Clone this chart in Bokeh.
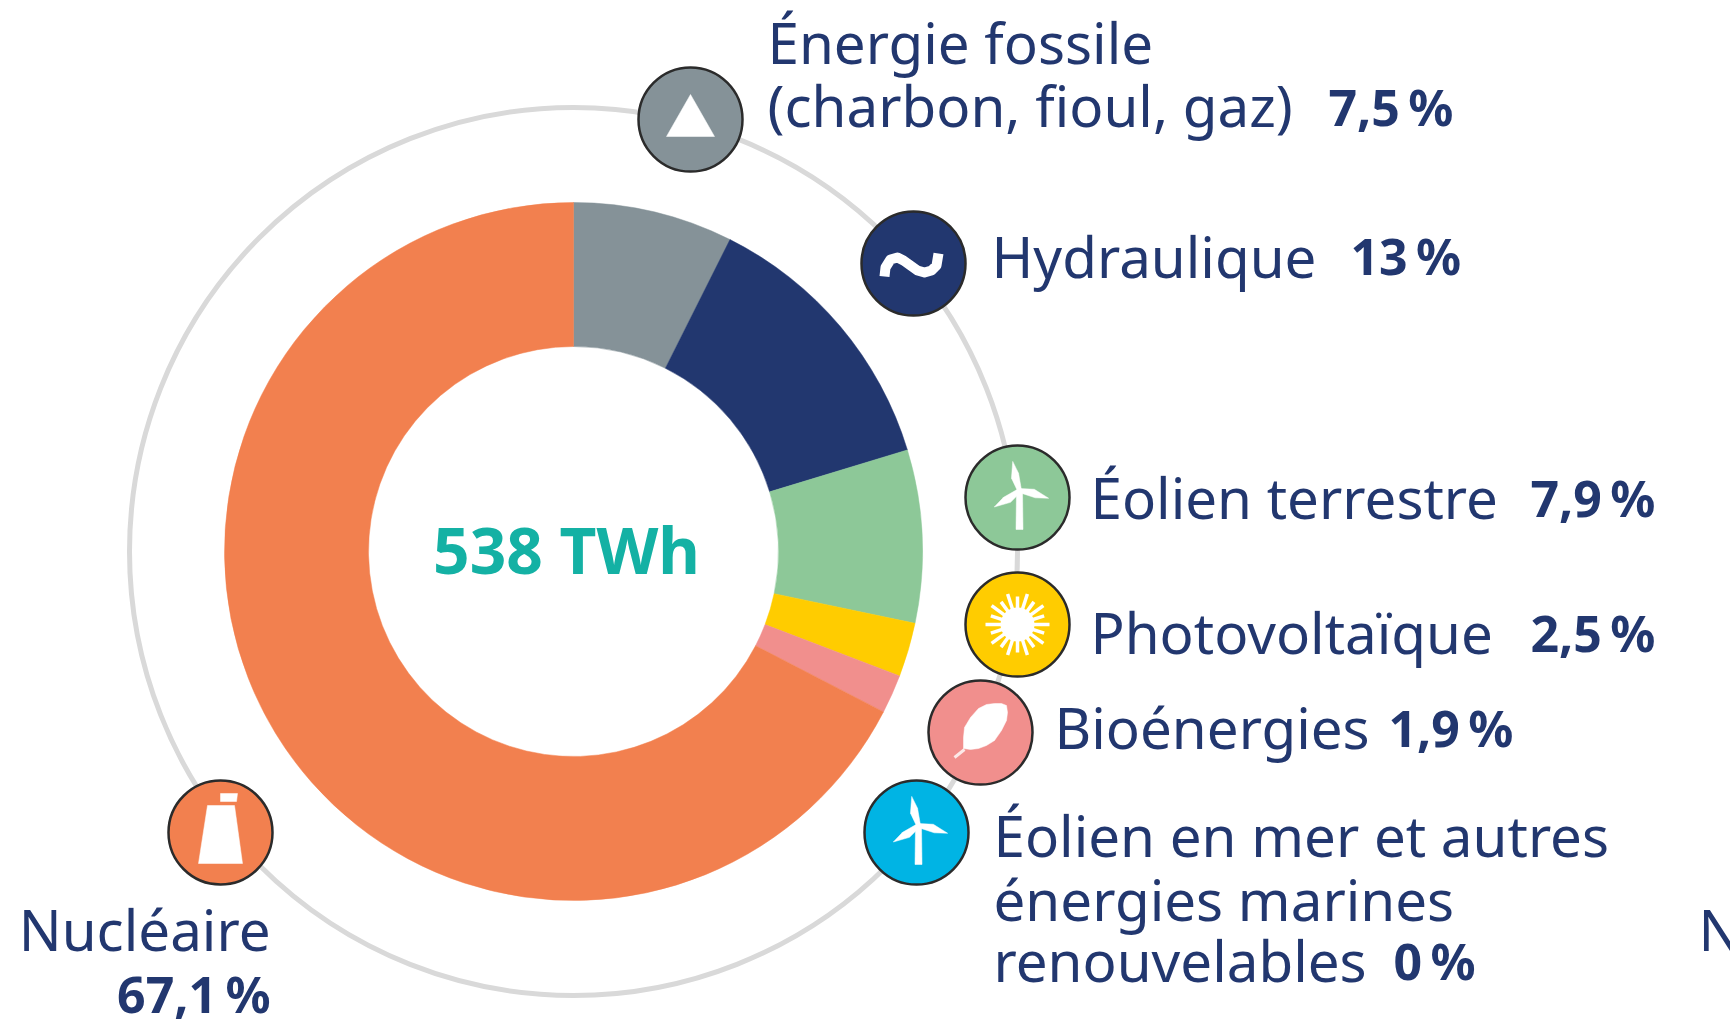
import numpy as np
from bokeh.plotting import figure
from bokeh.core.properties import value
from bokeh.embed import file_html
from bokeh.resources import INLINE

# ---- data ----
categories = ["Énergie fossile", "Hydraulique", "Éolien terrestre", "Photovoltaïque",
              "Bioénergies", "Éolien en mer et autres énergies marines renouvelables", "Nucléaire"]
shares = [7.4, 12.9, 8.0, 2.5, 1.8, 0, 67.4]   # slice sizes as read from the drawn ring
share_labels = ["7,5\u202f%", "13\u202f%", "7,9\u202f%", "2,5\u202f%", "1,9\u202f%", "0\u202f%", "67,1\u202f%"]
total_label = "538 TWh"
colors = ["#859298", "#22376F", "#8DC898", "#FFCC00", "#F18F8D", "#00B4E4", "#F2804F"]

# ---- layout (page pixels, y downwards) ----
W, H = 1730, 1023
CX, CY, R_OUT, R_IN, R_RING = 573, 551, 349, 205, 444
NAVY = "#22376F"
FONT = "Noto Sans"
FS = 56.5
FS_B = 50
BASE_FIX = 0.39
icon_xy = [(690, 119), (913, 263), (1017, 497), (1017, 624), (980, 732), (916, 832), (220, 832)]
R_ICON = 52

def Y(y):
    return H - y

p = figure(width=W, height=H, x_range=(0, W), y_range=(0, H),
           output_backend="svg", toolbar_location=None, min_border=0,
           outline_line_color=None, background_fill_color="white")
p.axis.visible = False
p.grid.visible = False

# ring
p.circle(x=[CX], y=[Y(CY)], radius=R_RING, fill_color=None, line_color="#D9D9D9", line_width=5)

# donut
vals = np.array(shares, dtype=float)
frac = np.concatenate([[0], np.cumsum(vals) / vals.sum()])
starts = np.pi / 2 - 2 * np.pi * frac[1:]
ends = np.pi / 2 - 2 * np.pi * frac[:-1]
for s, e, c, v in zip(starts, ends, colors, vals):
    if v > 0:
        p.annular_wedge(x=[CX], y=[Y(CY)], inner_radius=R_IN, outer_radius=R_OUT,
                        start_angle=s, end_angle=e, fill_color=c, line_color=c, line_width=0.5)

p.text(x=[CX - 7], y=[Y(574 - 0.39 * 64)], text=[total_label], text_font=value(FONT), text_font_size="64px",
       text_font_style="bold", text_color="#14B1A4", text_align="center", text_baseline="alphabetic")

# icons
for (ix, iy), c in zip(icon_xy, colors):
    p.circle(x=[ix], y=[Y(iy)], radius=R_ICON, fill_color=c, line_color="#2B2B2B", line_width=2.5)

def patch(ix, iy, dx, dy):
    p.patch([ix + a for a in dx], [Y(iy + b) for b in dy], fill_color="white", line_color="white", line_width=0.5)

# fossil: triangle
ix, iy = icon_xy[0]
patch(ix, iy, [0, 24, -24], [-25, 17, 17])

# hydro: wave
ix, iy = icon_xy[1]
wx = [-29, -28, -23, -16, -10, -3, 4, 11, 18, 23, 25]
wy = [13, 4, -4, -6, -3, 2, 7, 9, 7, 2, -10]
p.line([ix + a for a in wx], [Y(iy + b) for b in wy], line_color="white", line_width=10,
       line_join="round", line_cap="butt")

def turbine(ix, iy):
    patch(ix, iy, [-1, 5, 5.5, -1.5], [-7, -7, 32, 32])
    hx, hy = 2, -7
    for tx, ty in ((-5, -37), (32, 1), (-24, 10)):
        ux, uy = tx - hx, ty - hy
        L = float(np.hypot(ux, uy))
        nx, ny = -uy / L, ux / L
        dx = [hx - nx * 2, hx + ux * .45 - nx * 5, tx - ux * .03, hx + ux * .55 + nx * 3, hx + nx * 2]
        dy = [hy - ny * 2, hy + uy * .45 - ny * 5, ty - uy * .03, hy + uy * .55 + ny * 3, hy + ny * 2]
        patch(ix, iy, dx, dy)

turbine(*icon_xy[2])
turbine(*icon_xy[5])

# sun
ix, iy = icon_xy[3]
p.circle(x=[ix], y=[Y(iy)], radius=17, fill_color="white", line_color=None)
ang = np.radians(np.arange(0, 360, 18))
lens = np.where(np.arange(20) % 2 == 0, 32, 28)
p.multi_line([[ix, ix + l * np.cos(a)] for a, l in zip(ang, lens)],
             [[Y(iy), Y(iy + l * np.sin(a))] for a, l in zip(ang, lens)],
             line_color="white", line_width=3.5)

# leaf
ix, iy = icon_xy[4]
patch(ix, iy, [26, 27, 26, 21, 14, 6, -2, -10, -17, -17, -16, -10, -2, 6, 14, 21],
      [-27, -20, -12, -2, 8, 13, 16, 17, 16, 5, -5, -15, -24, -28, -29, -29])
p.line([ix - 26, ix - 16], [Y(iy + 25), Y(iy + 17)], line_color="white", line_width=3, line_alpha=0.8)

# nuclear
ix, iy = icon_xy[6]
patch(ix, iy, [-13, 14, 22, -22], [-27, -27, 31, 31])
patch(ix, iy, [0, 17, 16, 0], [-39, -39, -31, -31])

# labels
def label(x, y, s, bold=False, align="left"):
    fs = FS_B if bold else FS
    lift = 2 if bold else 0
    p.text(x=[x], y=[Y(y - lift - BASE_FIX * fs)], text=[s], text_font=value(FONT), text_font_size=f"{fs}px",
           text_font_style="bold" if bold else "normal", text_color=NAVY,
           text_align=align, text_baseline="alphabetic")

label(767, 64, "Énergie fossile")
label(767, 127, "(charbon, fioul, gaz)")
label(1328, 128, share_labels[0], True)
label(991, 278, categories[1])
label(1350, 277, share_labels[1], True)
label(1090, 519, categories[2])
label(1530, 519, share_labels[2], True)
label(1090, 654, categories[3])
label(1530, 654, share_labels[3], True)
label(1054, 749, categories[4])
label(1388, 749, share_labels[4], True)
label(993, 857, "Éolien en mer et autres")
label(993, 921, "énergies marines")
label(993, 982, "renouvelables")
label(1393, 982, share_labels[5], True)
label(270, 951, categories[6], align="right")
label(270, 1015, share_labels[6], True, align="right")
label(1698, 951, "N")

open("out.html", "w").write(file_html(p, INLINE))
